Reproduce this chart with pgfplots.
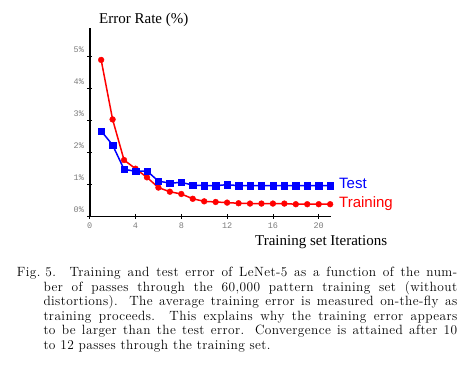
\documentclass[border=0pt]{standalone}
\usepackage{fontspec}
\setmainfont{Latin Modern Roman}
\newfontfamily\capfont[LetterSpace=3]{Latin Modern Roman}
\newfontfamily\titlefont{Liberation Serif}
\newfontfamily\labfont{Liberation Sans}
\newfontfamily\tickfont{Liberation Mono}
\usepackage{pgfplots}
\usepackage{pgfplotstable}
\pgfplotsset{compat=1.18}
\definecolor{tickgray}{RGB}{125,125,125}

\pgfplotstableread{
x y
1 4.90
2 3.04
3 1.77
4 1.50
5 1.23
6 0.91
7 0.78
8 0.71
9 0.56
10 0.48
11 0.46
12 0.44
13 0.42
14 0.41
15 0.41
16 0.41
17 0.41
18 0.39
19 0.39
20 0.39
21 0.39
}\train
\pgfplotstableread{
x y
1 2.68
2 2.24
3 1.48
4 1.42
5 1.43
6 1.11
7 1.05
8 1.07
9 0.99
10 0.97
11 0.97
12 1.00
13 0.97
14 0.97
15 0.97
16 0.97
17 0.97
18 0.97
19 0.97
20 0.97
21 0.97
}\test

\begin{document}
\begin{tikzpicture}
\path[use as bounding box, fill=white] (0,0) rectangle (463pt,371pt);
\begin{axis}[
 at={(89.7pt,154.3pt)}, anchor=south west,
 scale only axis, width=241.6pt, height=188.8pt,
 xmin=0, xmax=21.1, ymin=0, ymax=5.9,
 axis x line=bottom, axis y line=left,
 axis line style={-, line width=1.6pt, black},
 xtick={0,4,8,12,16,20}, xticklabels={0,4,8,12,16,20},
 ytick={0,1,2,3,4,5}, yticklabels={0\%,1\%,2\%,3\%,4\%,5\%},
 tick align=center, major tick length=4.5pt,
 tick style={black, line width=0.8pt},
 tick label style={font=\tickfont\fontsize{8.5}{10}\selectfont, text=tickgray},
 yticklabel style={yshift=7.4pt},
 clip=false,
]
\addplot[red, line width=1.5pt, mark=*, mark size=2.9pt, mark options={line width=0.4pt}] table {\train};
\addplot[blue, line width=1.5pt, mark=square*, mark size=3.2pt, mark options={line width=0.4pt}] table {\test};
\end{axis}
\node[anchor=base west, inner sep=0, font=\titlefont\fontsize{15}{18}\selectfont] at (99pt,347pt) {Error Rate (\%)};
\node[anchor=base west, inner sep=0, font=\titlefont\fontsize{15}{18}\selectfont] at (255pt,125.3pt) {Training set Iterations};
\node[anchor=base west, inner sep=0, font=\labfont\fontsize{15}{18}\selectfont, text=blue] at (339pt,182.7pt) {Test};
\node[anchor=base west, inner sep=0, font=\labfont\fontsize{15}{18}\selectfont, text=red] at (339pt,163.7pt) {Training};
\begin{scope}[every node/.style={anchor=base west, inner sep=0, font=\capfont\fontsize{13.4}{14}\selectfont}]
\node at (16.7pt,94pt) {Fig.~5.};
\node at (69.3pt,94pt) {\makebox[387.7pt][s]{Training and test error of LeNet-5 as a function of the num-}};
\node at (43.3pt,79.5pt) {\makebox[413.7pt][s]{ber of passes through the 60,000 pattern training set (without}};
\node at (43.3pt,65pt) {\makebox[413.7pt][s]{distortions). The average training error is measured on-the-fly as}};
\node at (43.3pt,50.5pt) {\makebox[413.7pt][s]{training proceeds. This explains why the training error appears}};
\node at (43.3pt,36pt) {\makebox[413.7pt][s]{to be larger than the test error. Convergence is attained after 10}};
\node at (43.3pt,21.5pt) {to 12 passes through the training set.};
\end{scope}
\end{tikzpicture}
\end{document}
